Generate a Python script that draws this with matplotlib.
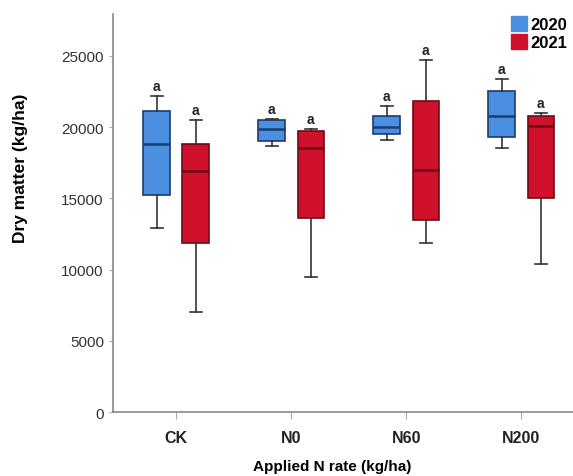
import numpy as np
import matplotlib.pyplot as plt
from matplotlib.patches import Patch

plt.rcParams['font.family'] = ['Liberation Sans', 'DejaVu Sans']

groups = ["CK", "N0", "N60", "N200"]
years = ["2020", "2021"]

# five-number summaries: low whisker, Q1, median, Q3, high whisker
stats_2020 = [
    [12900, 15200, 18800, 21100, 22200],
    [18700, 19000, 19900, 20500, 20600],
    [19100, 19500, 20000, 20800, 21500],
    [18500, 19300, 20800, 22500, 23400],
]
stats_2021 = [
    [7000, 11900, 16900, 18800, 20500],
    [9500, 13600, 18500, 19700, 19900],
    [11900, 13500, 17000, 21800, 24700],
    [10400, 15000, 20100, 20800, 21000],
]
letters_2020 = ["a", "a", "a", "a"]
letters_2021 = ["a", "a", "a", "a"]

face = {"2020": "#4a8fe0", "2021": "#d0112b"}
edge = {"2020": "#1d3c70", "2021": "#6e0a18"}

fig = plt.figure(figsize=(5.73, 4.77), dpi=100)
ax = fig.add_axes([0.197, 0.134, 0.803, 0.835])

x = np.arange(len(groups))
offset = 0.17
width = 0.23

for yr, stats, letters, sign in [("2020", stats_2020, letters_2020, -1),
                                 ("2021", stats_2021, letters_2021, 1)]:
    bxp = []
    for s in stats:
        bxp.append({"whislo": s[0], "q1": s[1], "med": s[2], "q3": s[3],
                    "whishi": s[4], "fliers": []})
    ax.bxp(bxp, positions=x + sign * offset, widths=width, patch_artist=True,
           showfliers=False,
           boxprops=dict(facecolor=face[yr], edgecolor=edge[yr], linewidth=1.2),
           medianprops=dict(color=edge[yr], linewidth=1.8),
           whiskerprops=dict(color="#333333", linewidth=1.2),
           capprops=dict(color="#333333", linewidth=1.2),
           capwidths=width * 0.45)
    for xi, s, lt in zip(x + sign * offset, stats, letters):
        ax.text(xi, s[4] + 200, lt, ha="center", va="bottom",
                fontsize=10, fontweight="bold", color="#222222")

ax.set_xlim(-0.55, 3.45)
ax.set_ylim(0, 27950)
ax.set_xticks(x)
ax.set_xticklabels(groups, fontsize=11.5, fontweight="bold", color="#222222")
ax.set_yticks([0, 5000, 10000, 15000, 20000, 25000])
ax.tick_params(axis="y", labelsize=11, colors="#aaaaaa", length=3, labelcolor="#333333")
ax.tick_params(axis="x", length=5, color="#aaaaaa", pad=8)

for sp in ["top", "right"]:
    ax.spines[sp].set_visible(False)
for sp in ["left", "bottom"]:
    ax.spines[sp].set_color("#888888")
    ax.spines[sp].set_linewidth(1.2)

ax.set_ylabel("Dry matter (kg/ha)", fontsize=12.5, fontweight="bold")
ax.set_xlabel("Applied N rate (kg/ha)", fontsize=11, fontweight="bold")
ax.yaxis.set_label_coords(-0.185, 0.615)
ax.xaxis.set_label_coords(0.476, -0.118)

handles = [Patch(facecolor=face[y], edgecolor=face[y], label=y) for y in years]
leg = ax.legend(handles=handles, loc="upper right", bbox_to_anchor=(1.01, 1.02),
                frameon=False, handlelength=1.0, handleheight=1.0,
                handletextpad=0.2, labelspacing=0.1, borderpad=0.1,
                prop={"weight": "bold", "size": 12})

fig.savefig("out.png", dpi=100)
